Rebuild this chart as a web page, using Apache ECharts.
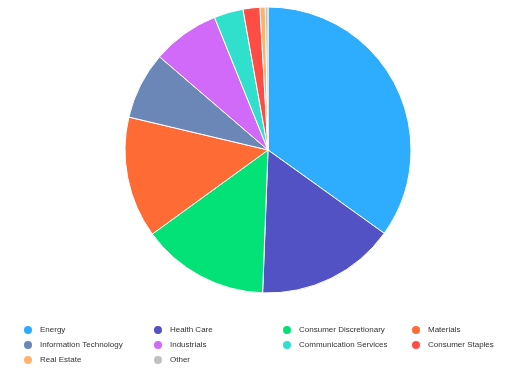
<!DOCTYPE html>
<html><head><meta charset="utf-8">
<script src="https://cdn.jsdelivr.net/npm/echarts@6/dist/echarts.min.js"></script>
<style>html,body{margin:0;padding:0;background:#fff}#c{width:516px;height:374px}</style>
</head><body><div id="c"></div>
<script>
const categories = ["Energy","Health Care","Consumer Discretionary","Materials","Information Technology","Industrials","Communication Services","Consumer Staples","Real Estate","Other"];
const values = [34.9,15.7,14.4,13.7,7.6,7.6,3.3,1.9,0.6,0.3];
const colors = ["#2eadff","#5352c4","#03e276","#ff6b35","#6a87b8","#d169f9","#30e0cc","#ff4d46","#ffb26b","#c0c0c0"];

const columns = [
  [categories[0], categories[4], categories[8]],
  [categories[1], categories[5], categories[9]],
  [categories[2], categories[6]],
  [categories[3], categories[7]]
];
const colLeft = [22, 152, 281, 410];

const chart = echarts.init(document.getElementById('c'), null, {renderer:'canvas'});
chart.setOption({
  animation:false,
  color: colors,
  legend: columns.map((col,i)=>({
    data: col,
    orient:'vertical',
    left: colLeft[i],
    top: 324,
    itemGap: 3,
    itemWidth: 10,
    itemHeight: 10,
    icon:'circle',
    padding:0,
    textStyle:{fontFamily:'Liberation Sans, Arial, sans-serif', fontSize:8, color:'#333', padding:[0,0,0,2]}
  })),
  series:[{
    type:'pie',
    center:[268,150],
    radius:[0,143],
    startAngle:90,
    clockwise:true,
    label:{show:false},
    labelLine:{show:false},
    itemStyle:{borderColor:'#fff', borderWidth:1},
    data: categories.map((n,i)=>({name:n, value:values[i]}))
  }]
});
</script></body></html>
